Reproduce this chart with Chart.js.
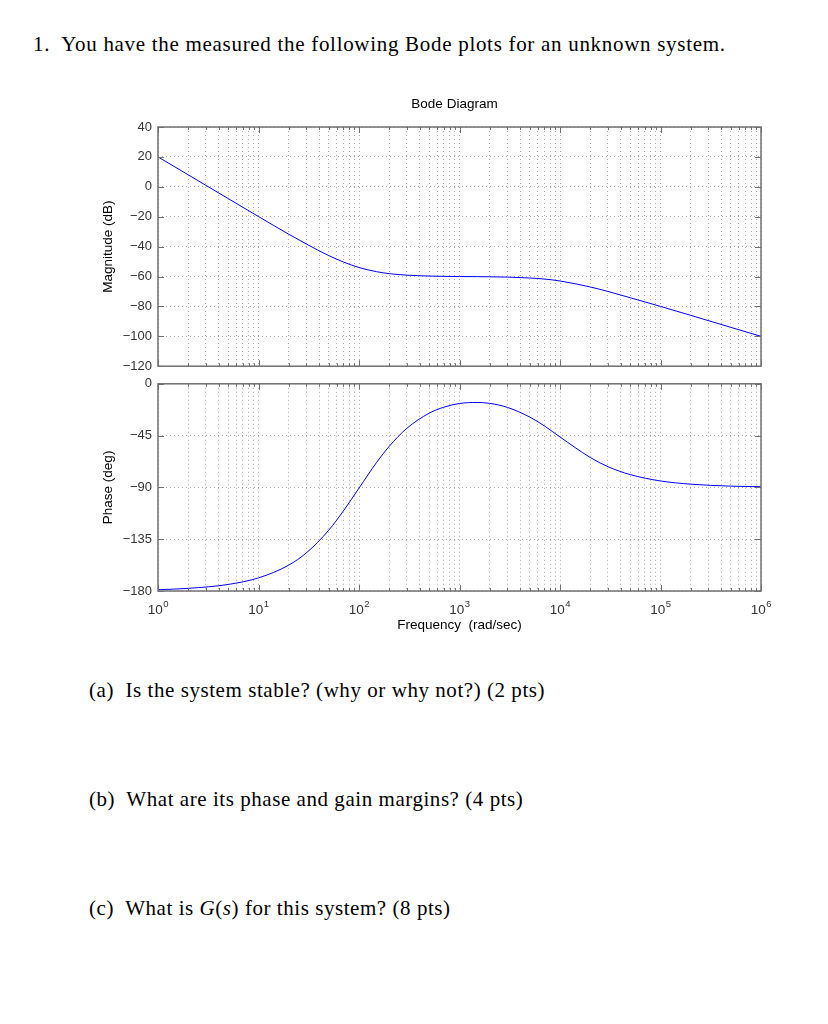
<!DOCTYPE html>
<html>
<head>
<meta charset="utf-8">
<script src="https://cdn.jsdelivr.net/npm/chart.js@4.4.1/dist/chart.umd.min.js"></script>
<style>
  body { margin: 0; background: #fff; }
  #page { position: relative; width: 828px; height: 1024px; overflow: hidden; font-family: "Liberation Serif", serif; color: #000; }
  .txt { position: absolute; font-size: 21px; line-height: 21px; white-space: nowrap; letter-spacing: 0.7px; }
  .q { letter-spacing: 0.55px; }
  #magBox { position: absolute; left: 0; top: 90px; width: 828px; height: 290px; }
  #phaseBox { position: absolute; left: 0; top: 370px; width: 828px; height: 280px; }
</style>
</head>
<body>
<div id="page">
  <div class="txt" style="left:33px; top:34px;">1.&nbsp; You have the measured the following Bode plots for an unknown system.</div>
  <div id="magBox"><canvas id="magChart"></canvas></div>
  <div id="phaseBox"><canvas id="phaseChart"></canvas></div>
  <div class="txt q" style="left:89px; top:680px;">(a)&nbsp; Is the system stable? (why or why not?) (2 pts)</div>
  <div class="txt q" style="left:89px; top:789px;">(b)&nbsp; What are its phase and gain margins? (4 pts)</div>
  <div class="txt q" style="left:89px; top:898px;">(c)&nbsp; What is <i>G</i>(<i>s</i>) for this system? (8 pts)</div>
</div>
<script>
// frequency (rad/sec) and readings
const freq = [1, 2, 5, 10, 20, 30, 50, 70, 100, 150, 200, 300, 500, 700, 1000, 1500, 2000, 3000, 5000, 7000, 1e4, 2e4, 3e4, 5e4, 1e5, 2e5, 5e5, 1e6];
const magnitudeDb = [20.0, 8.0, -7.9, -19.9, -31.7, -38.3, -46.0, -50.3, -54.0, -56.8, -58.1, -59.1, -59.7, -59.9, -60.0, -60.1, -60.2, -60.4, -61.0, -61.7, -63.0, -67.0, -70.0, -74.2, -80.0, -86.0, -94.0, -100.0];
const phaseDeg = [-178.9, -177.7, -174.3, -168.6, -157.5, -146.8, -127.2, -110.4, -90.6, -68.2, -54.3, -38.6, -25.5, -20.3, -17.1, -16.2, -17.0, -20.5, -28.9, -36.6, -46.2, -64.0, -72.0, -78.9, -84.4, -87.2, -88.9, -89.4];

const decades = [1, 10, 100, 1e3, 1e4, 1e5, 1e6];
const decadeExponents = ['0', '1', '2', '3', '4', '5', '6'];
const magRange = [-120, 40, 20];
const phaseRange = [-180, 0, 45];

const gridColor = 'rgba(0,0,0,0.33)';
const tickColor = '#333';
const tickFont = { family: 'Liberation Sans', size: 13 };
const labelFont = { family: 'Liberation Sans', size: 13.5 };

function logTicks() {
  const out = [];
  decades.forEach((d, i) => {
    out.push({ value: d, major: true });
    if (i < decades.length - 1) {
      for (let m = 2; m <= 9; m++) out.push({ value: d * m, major: false });
    }
  });
  return out;
}

function minusLabel(v) {
  return v < 0 ? '\u2212' + Math.abs(v) : String(v);
}

// matlab style box with inward ticks
const boxPlugin = {
  id: 'box',
  afterDraw(chart) {
    const { ctx, chartArea: a, scales } = chart;
    ctx.save();
    ctx.strokeStyle = '#707070';
    ctx.lineWidth = 1;
    ctx.beginPath();
    scales.x.ticks.forEach(t => {
      const x = Math.round(scales.x.getPixelForValue(t.value)) + 0.5;
      const len = t.major ? 6 : 3;
      ctx.moveTo(x, a.top); ctx.lineTo(x, a.top + len);
      ctx.moveTo(x, a.bottom); ctx.lineTo(x, a.bottom - len);
    });
    scales.y.ticks.forEach(t => {
      const y = Math.round(scales.y.getPixelForValue(t.value)) + 0.5;
      ctx.moveTo(a.left, y); ctx.lineTo(a.left + 6, y);
      ctx.moveTo(a.right, y); ctx.lineTo(a.right - 6, y);
    });
    ctx.stroke();
    ctx.lineWidth = 1.5;
    ctx.strokeRect(a.left, a.top, a.right - a.left, a.bottom - a.top);
    ctx.restore();
  }
};

// 10^n labels under the phase axes
const decadeLabelPlugin = {
  id: 'decadeLabels',
  afterDraw(chart) {
    const { ctx, chartArea: a, scales } = chart;
    ctx.save();
    ctx.fillStyle = tickColor;
    ctx.textBaseline = 'alphabetic';
    decades.forEach((d, i) => {
      const x = scales.x.getPixelForValue(d);
      ctx.font = '13.5px "Liberation Sans"';
      const baseW = ctx.measureText('10').width;
      ctx.font = '9.5px "Liberation Sans"';
      const expW = ctx.measureText(decadeExponents[i]).width;
      const left = x - (baseW + expW) / 2;
      ctx.font = '13.5px "Liberation Sans"';
      ctx.fillText('10', left, a.bottom + 23);
      ctx.font = '9.5px "Liberation Sans"';
      ctx.fillText(decadeExponents[i], left + baseW + 0.5, a.bottom + 16);
    });
    ctx.restore();
  }
};

function xScale(showTitle) {
  return {
    type: 'logarithmic',
    min: 1,
    max: 1e6,
    afterBuildTicks: s => { s.ticks = logTicks(); },
    afterFit: s => { s.height = showTitle ? 59 : 12; },
    grid: { color: gridColor, drawTicks: false },
    border: { display: false, dash: [1, 3] },
    ticks: { display: false, autoSkip: false },
    title: { display: showTitle, text: 'Frequency  (rad/sec)', color: '#000', font: labelFont, padding: { top: 0, bottom: 17 } }
  };
}

function yScale(range, label) {
  return {
    min: range[0],
    max: range[1],
    afterFit: s => { s.width = 158; },
    grid: { color: gridColor, drawTicks: false },
    border: { display: false, dash: [1, 3] },
    ticks: { stepSize: range[2], padding: 6, color: tickColor, font: tickFont, callback: minusLabel },
    title: { display: true, text: label, color: '#000', font: labelFont, padding: { top: 100, bottom: 0 } }
  };
}

function lineData(values) {
  return {
    datasets: [{
      data: freq.map((f, i) => ({ x: f, y: values[i] })),
      borderColor: '#0000ff',
      borderWidth: 1,
      pointRadius: 0,
      cubicInterpolationMode: 'monotone',
      fill: false
    }]
  };
}

const titlePlugin = {
  id: 'bodeTitle',
  afterDraw(chart) {
    const { ctx, chartArea: a } = chart;
    ctx.save();
    ctx.fillStyle = '#000';
    ctx.font = '13.5px "Liberation Sans"';
    ctx.textAlign = 'center';
    ctx.textBaseline = 'middle';
    ctx.fillText('Bode Diagram', (a.left + a.right) / 2 - 5, 14);
    ctx.restore();
  }
};

const magChart = new Chart(document.getElementById('magChart'), {
  type: 'line',
  data: lineData(magnitudeDb),
  options: {
    responsive: true,
    maintainAspectRatio: false,
    animation: false,
    layout: { padding: { top: 37, right: 67, left: 0, bottom: 0 } },
    plugins: { legend: { display: false }, tooltip: { enabled: false } },
    scales: { x: xScale(false), y: yScale(magRange, 'Magnitude (dB)') }
  },
  plugins: [boxPlugin, titlePlugin]
});

const phaseChart = new Chart(document.getElementById('phaseChart'), {
  type: 'line',
  data: lineData(phaseDeg),
  options: {
    responsive: true,
    maintainAspectRatio: false,
    animation: false,
    layout: { padding: { top: 9, right: 67, left: 0, bottom: 0 } },
    plugins: { legend: { display: false }, tooltip: { enabled: false } },
    scales: { x: xScale(true), y: yScale(phaseRange, 'Phase (deg)') }
  },
  plugins: [boxPlugin, decadeLabelPlugin]
});
</script>
</body>
</html>
